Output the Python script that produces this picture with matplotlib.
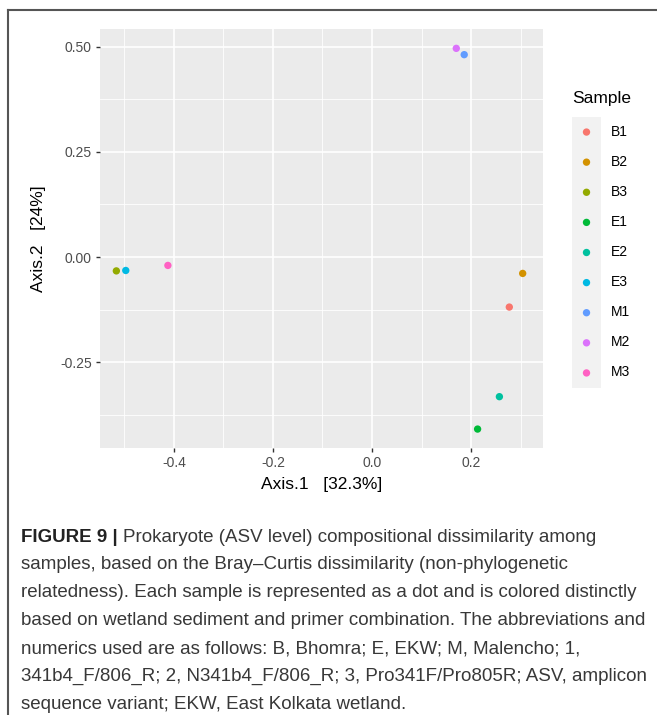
import matplotlib
matplotlib.use("Agg")
import matplotlib.pyplot as plt
from matplotlib.lines import Line2D

# ---- data ----
samples = ["B1", "B2", "B3", "E1", "E2", "E3", "M1", "M2", "M3"]
axis1 = [0.277, 0.304, -0.516, 0.213, 0.257, -0.497, 0.186, 0.170, -0.412]
axis2 = [-0.119, -0.039, -0.033, -0.409, -0.332, -0.032, 0.481, 0.496, -0.020]
colors = ["#F8766D", "#D39200", "#93AA00", "#00BA38", "#00C19F",
          "#00B9E3", "#619CFF", "#DB72FB", "#FF61C3"]
x_major = [-0.4, -0.2, 0.0, 0.2]
x_minor = [-0.5, -0.3, -0.1, 0.1, 0.3]
y_major = [-0.25, 0.0, 0.25, 0.50]
y_minor = [-0.375, -0.125, 0.125, 0.375]
x_labels = ["-0.4", "-0.2", "0.0", "0.2"]
y_labels = ["-0.25", "0.00", "0.25", "0.50"]
xlabel = "Axis.1   [32.3%]"
ylabel = "Axis.2   [24%]"
legend_title = "Sample"
caption_bold = "FIGURE 9 | "
caption_lines = [
    "Prokaryote (ASV level) compositional dissimilarity among",
    "samples, based on the Bray\u2013Curtis dissimilarity (non-phylogenetic",
    "relatedness). Each sample is represented as a dot and is colored distinctly",
    "based on wetland sediment and primer combination. The abbreviations and",
    "numerics used are as follows: B, Bhomra; E, EKW; M, Malencho; 1,",
    "341b4_F/806_R; 2, N341b4_F/806_R; 3, Pro341F/Pro805R; ASV, amplicon",
    "sequence variant; EKW, East Kolkata wetland.",
]

W, H = 657, 715
plt.rcParams['font.family'] = ['Liberation Sans', 'DejaVu Sans']
fig = plt.figure(figsize=(W / 100, H / 100), dpi=100)


def fx(px):
    return px / W


def fy(py):
    return 1 - py / H


# frame lines
fig.add_artist(Line2D([fx(8), 1], [fy(10), fy(10)], color="#555555", lw=1.5))
fig.add_artist(Line2D([fx(8), fx(8)], [fy(10), 0], color="#555555", lw=1.5))

# panel
L, R, T, B = 100, 543, 29, 448
ax = fig.add_axes([fx(L), fy(B), fx(R - L), (B - T) / H])
ax.set_facecolor("#EBEBEB")
for s in ax.spines.values():
    s.set_visible(False)
ax.set_xlim(-0.549, 0.345)
ax.set_ylim(-0.454, 0.542)
for v in x_minor:
    ax.axvline(v, color="white", lw=0.6, zorder=0.5)
for v in y_minor:
    ax.axhline(v, color="white", lw=0.6, zorder=0.5)
for v in x_major:
    ax.axvline(v, color="white", lw=1.2, zorder=0.6)
for v in y_major:
    ax.axhline(v, color="white", lw=1.2, zorder=0.6)
ax.set_xticks(x_major)
ax.set_xticklabels(x_labels)
ax.set_yticks(y_major)
ax.set_yticklabels(y_labels)
ax.tick_params(axis="both", length=3, width=1, color="#333333",
               labelcolor="#4D4D4D", labelsize=10, pad=3)
ax.scatter(axis1, axis2, c=colors, s=28, zorder=3, linewidths=0)

fig.text(fx((L + R) / 2), fy(485), xlabel, ha="center", va="center",
         fontsize=12.5, color="black")
fig.text(fx(39), fy((T + B) / 2), ylabel, ha="center", va="center",
         rotation=90, fontsize=12.5, color="black")

# legend
fig.text(fx(572), fy(98), legend_title, ha="left", va="center",
         fontsize=12.5, color="black")
lax = fig.add_axes([fx(572), fy(388), fx(29), (388 - 117) / H])
lax.set_facecolor("#F2F2F2")
for s in lax.spines.values():
    s.set_visible(False)
lax.set_xticks([])
lax.set_yticks([])
n = len(samples)
lax.set_xlim(0, 1)
lax.set_ylim(n - 0.5, -0.5)
lax.scatter([0.5] * n, list(range(n)), c=colors, s=28, linewidths=0)
for i, lab in enumerate(samples):
    fig.text(fx(611), fy(132 + 30 * i), lab, ha="left", va="center",
             fontsize=10, color="black")

# caption
cap_x = 21
cap_y0 = 537
dy = 27.9
target_w = 580
fig.canvas.draw()
r = fig.canvas.get_renderer()
fs = 12.5
tb = fig.text(fx(cap_x), fy(cap_y0), caption_bold, ha="left", va="center",
              fontsize=fs, fontweight="bold", color="#222222")
t1 = fig.text(0, 0, caption_lines[0], fontsize=fs)
wb = tb.get_window_extent(r).width
w1 = t1.get_window_extent(r).width
t1.remove()
scale = target_w / (wb + w1)
fs = fs * scale
tb.set_fontsize(fs)
wb = tb.get_window_extent(r).width
for i, line in enumerate(caption_lines):
    x0 = cap_x + (wb if i == 0 else 0)
    fig.text(fx(x0), fy(cap_y0 + dy * i), line, ha="left", va="center",
             fontsize=fs, color="#383838")

fig.savefig("out.png", dpi=100)
